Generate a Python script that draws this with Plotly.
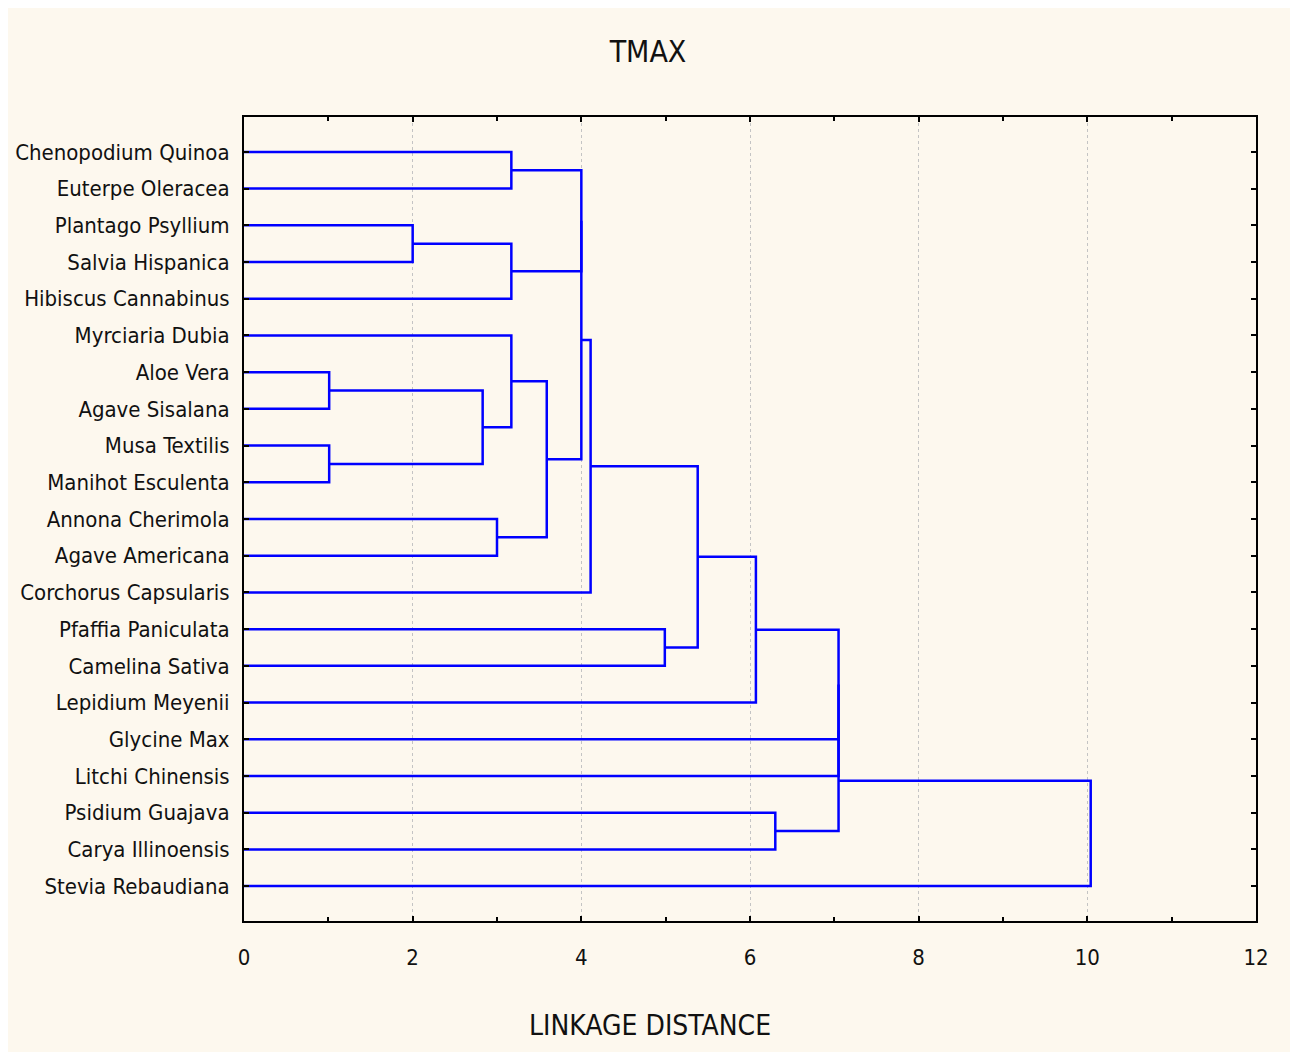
import plotly.graph_objects as go

# Leaves of the tree, top to bottom
leaf_labels = [
    "Chenopodium Quinoa", "Euterpe Oleracea", "Plantago Psyllium", "Salvia Hispanica",
    "Hibiscus Cannabinus", "Myrciaria Dubia", "Aloe Vera", "Agave Sisalana",
    "Musa Textilis", "Manihot Esculenta", "Annona Cherimola", "Agave Americana",
    "Corchorus Capsularis", "Pfaffia Paniculata", "Camelina Sativa", "Lepidium Meyenii",
    "Glycine Max", "Litchi Chinensis", "Psidium Guajava", "Carya Illinoensis",
    "Stevia Rebaudiana",
]

# Agglomeration steps: ids < 21 are leaves, id 21+k is the cluster formed at step k
merge_a = [0, 2, 22, 21, 6, 8, 25, 5, 10, 28, 24, 31, 13, 32, 34, 18, 35, 37, 38, 39]
merge_b = [1, 3, 4, 23, 7, 9, 26, 27, 11, 29, 30, 12, 14, 33, 15, 19, 16, 17, 36, 20]
merge_dist = [3.17, 2.00, 3.17, 4.00, 1.01, 1.01, 2.83, 3.17, 3.00, 3.59,
              4.00, 4.11, 4.99, 5.38, 6.07, 6.30, 7.05, 7.05, 7.05, 10.04]

x_ticks = [0, 2, 4, 6, 8, 10, 12]

n_leaves = len(leaf_labels)
node_x = {i: 0.0 for i in range(n_leaves)}
node_y = {i: float(i) for i in range(n_leaves)}

xs, ys = [], []
for k, (a, b, d) in enumerate(zip(merge_a, merge_b, merge_dist)):
    nid = n_leaves + k
    xs += [node_x[a], d, d, node_x[b], None]
    ys += [node_y[a], node_y[a], node_y[b], node_y[b], None]
    node_x[nid] = d
    node_y[nid] = (node_y[a] + node_y[b]) / 2.0

FONT = "DejaVu Sans Condensed, Liberation Sans Narrow, sans-serif"
INK = "#111111"
CREAM = "#fdf8ee"

fig = go.Figure()
fig.add_trace(go.Scatter(
    x=xs, y=ys, mode="lines",
    line=dict(color="#0000ff", width=2.5),
    hoverinfo="skip", showlegend=False,
))

W, H = 1296, 1057
L, R, T, B = 244, 40, 117, 136
pw, ph = W - L - R, H - T - B


def px_x(p):
    return (p - L) / pw


def px_y(p):
    return (H - B - p) / ph


fig.update_layout(
    width=W, height=H,
    margin=dict(l=L, r=R, t=T, b=B, pad=0),
    paper_bgcolor="white",
    plot_bgcolor="white",
    font=dict(family=FONT, color=INK),
    title=dict(
        text="TMAX", x=0.5, xref="container", xanchor="center",
        y=1 - 51 / H, yref="container", yanchor="middle",
        font=dict(family=FONT, size=30, color=INK),
    ),
    shapes=[dict(
        type="rect", xref="paper", yref="paper", layer="below",
        x0=px_x(8), x1=px_x(1290), y0=px_y(1052), y1=px_y(8),
        fillcolor=CREAM, line=dict(width=0),
    )],
    annotations=[dict(
        text="LINKAGE DISTANCE", xref="paper", yref="paper",
        x=px_x(650), y=px_y(1025), xanchor="center", yanchor="middle",
        showarrow=False, font=dict(family=FONT, size=28, color=INK),
    )],
)

fig.update_xaxes(
    range=[0, 12], tickvals=x_ticks, ticktext=[str(v) for v in x_ticks],
    ticks="inside", ticklen=5, tickwidth=1.5, tickcolor="black",
    minor=dict(dtick=1, ticks="inside", ticklen=4, tickwidth=1.5, tickcolor="black", showgrid=False),
    showline=True, linecolor="black", linewidth=2, mirror="ticks",
    showgrid=True, gridcolor="#c4c4c4", griddash="dot", gridwidth=1,
    zeroline=False, tickfont=dict(family=FONT, size=22, color=INK),
    ticklabelstandoff=16, automargin=False,
)
fig.update_yaxes(
    range=[20.95, -0.95], tickvals=list(range(n_leaves)), ticktext=leaf_labels,
    ticks="inside", ticklen=5, tickwidth=1.5, tickcolor="black",
    showline=True, linecolor="black", linewidth=2, mirror="ticks",
    showgrid=False, zeroline=False,
    tickfont=dict(family=FONT, size=22, color=INK),
    ticklabelstandoff=8, automargin=False,
)

fig.write_html("out.html")
